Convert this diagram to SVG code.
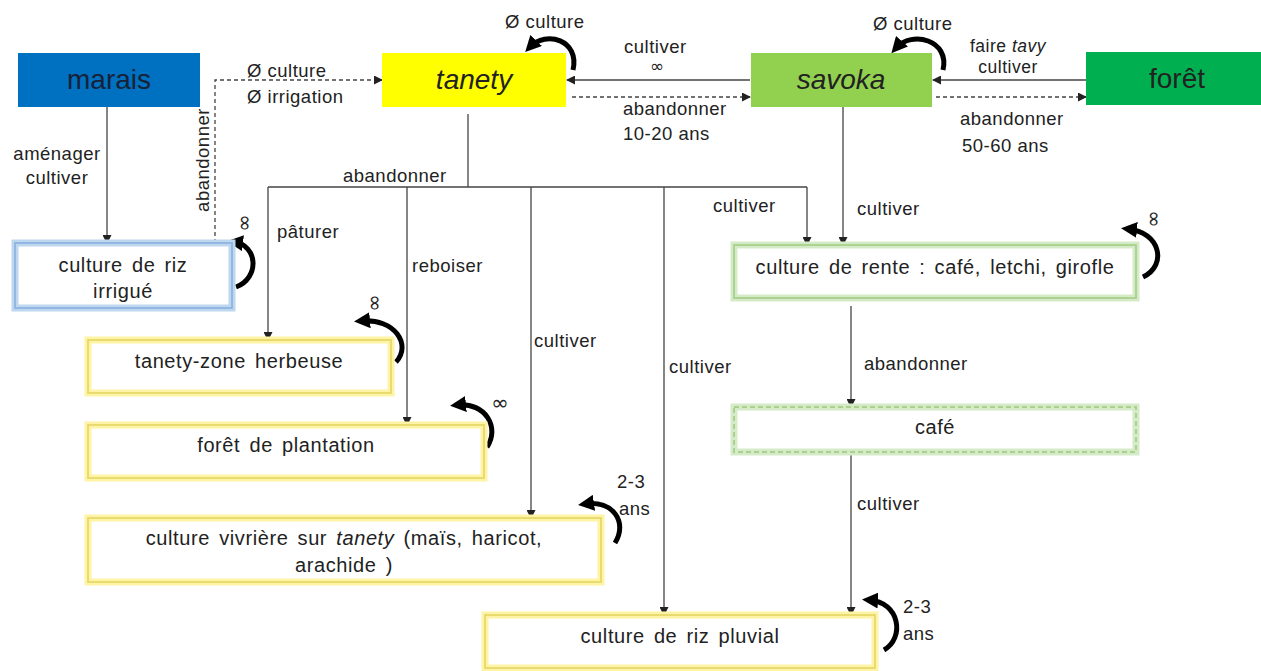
<svg xmlns="http://www.w3.org/2000/svg" width="1261" height="671" viewBox="0 0 1261 671">
<defs>
<marker id="a" markerUnits="userSpaceOnUse" markerWidth="9" markerHeight="9" refX="8" refY="4.5" orient="auto"><path d="M0,0 L9,4.5 L0,9 z" fill="#222"/></marker>
<marker id="b" markerUnits="userSpaceOnUse" markerWidth="16" markerHeight="16" refX="9" refY="8" orient="auto"><path d="M0,0 L16,8 L0,16 z" fill="#000"/></marker>
<style>
.t{font-family:"Liberation Sans",Arial,sans-serif;fill:#222}
.h{font-size:28px}
.bx{font-size:20px;letter-spacing:0.6px;word-spacing:3px}
.l{font-size:18.5px;letter-spacing:0.5px}
.s{font-family:"DejaVu Sans",sans-serif;font-size:21px;fill:#222}
.ln{stroke:#444;stroke-width:1.3;fill:none}
.ds{stroke:#444;stroke-width:1.3;fill:none;stroke-dasharray:4 3}
.lp{stroke:#000;stroke-width:5;fill:none}
.yg{fill:#fff;stroke:#FFF3A6;stroke-width:7}
.yi{fill:none;stroke:#E6D96A;stroke-width:1.8}
.bg{fill:#fff;stroke:#BDD7EE;stroke-width:7}
.bi{fill:none;stroke:#8FB3E0;stroke-width:1.8}
.gg{fill:#fff;stroke:#D5EBC7;stroke-width:7}
.gi{fill:none;stroke:#A9D18E;stroke-width:1.8}
</style>
</defs>
<g id="connectors">
<path class="ln" d="M107,107 V243" marker-end="url(#a)"/>
<path class="ds" d="M215,243 V80 H382" marker-end="url(#a)"/>
<path class="ln" d="M750,80 H567" marker-end="url(#a)"/>
<path class="ds" d="M572,97 H750" marker-end="url(#a)"/>
<path class="ln" d="M1086,80 H933" marker-end="url(#a)"/>
<path class="ds" d="M936,97 H1086" marker-end="url(#a)"/>
<path class="ln" d="M468,114 V187"/>
<path class="ln" d="M268,187 H807"/>
<path class="ln" d="M268,187 V340" marker-end="url(#a)"/>
<path class="ln" d="M407,187 V425" marker-end="url(#a)"/>
<path class="ln" d="M531,187 V518" marker-end="url(#a)"/>
<path class="ln" d="M664,187 V615" marker-end="url(#a)"/>
<path class="ln" d="M807,187 V245" marker-end="url(#a)"/>
<path class="ln" d="M843,107 V245" marker-end="url(#a)"/>
<path class="ln" d="M851,306 V407" marker-end="url(#a)"/>
<path class="ln" d="M851,452 V615" marker-end="url(#a)"/>
<path class="lp" d="M573,70 C580,40 546,30 530,47" marker-end="url(#b)"/>
<path class="lp" d="M943,70 C950,40 912,30 896,48" marker-end="url(#b)"/>
<path class="lp" d="M236,287 C260,278 258,245 234,242" marker-end="url(#b)"/>
<path class="lp" d="M396,362 C412,345 395,318 361,321" marker-end="url(#b)"/>
<path class="lp" d="M487,447 C500,428 486,402 457,405" marker-end="url(#b)"/>
<path class="lp" d="M615,543 C628,522 613,500 585,504" marker-end="url(#b)"/>
<path class="lp" d="M1143,277 C1168,265 1160,232 1128,229" marker-end="url(#b)"/>
<path class="lp" d="M884,650 C905,638 900,602 869,600" marker-end="url(#b)"/>
<text class="t l" x="57" y="160" text-anchor="middle">aménager</text>
<text class="t l" x="57" y="184" text-anchor="middle">cultiver</text>
<text class="t l" transform="translate(209,160) rotate(-90)" text-anchor="middle">abandonner</text>
<text class="t l" x="247" y="77">Ø culture</text>
<text class="t l" x="247" y="103">Ø irrigation</text>
<text class="t l" x="505" y="28">Ø culture</text>
<text class="t l" x="624" y="53">cultiver</text>
<text class="s" x="657" y="72" text-anchor="middle" style="font-size:17px">∞</text>
<text class="t l" x="623" y="115">abandonner</text>
<text class="t l" x="623" y="140">10-20 ans</text>
<text class="t l" x="873" y="30">Ø culture</text>
<text class="t l" x="1008" y="52" text-anchor="middle" style="font-size:17.5px">faire <tspan font-style="italic">tavy</tspan></text>
<text class="t l" x="1008" y="73" text-anchor="middle" style="font-size:17.5px">cultiver</text>
<text class="t l" x="960" y="125">abandonner</text>
<text class="t l" x="962" y="152">50-60 ans</text>
<text class="t l" x="343" y="182">abandonner</text>
<text class="t l" x="277" y="238">pâturer</text>
<text class="t l" x="412" y="272">reboiser</text>
<text class="t l" x="534" y="347">cultiver</text>
<text class="t l" x="669" y="373">cultiver</text>
<text class="t l" x="713" y="212">cultiver</text>
<text class="t l" x="857" y="215">cultiver</text>
<text class="t l" x="864" y="370">abandonner</text>
<text class="t l" x="857" y="510">cultiver</text>
<text class="s" transform="translate(251,223) rotate(-90)" text-anchor="middle">∞</text>
<text class="s" transform="translate(381,303) rotate(-90)" text-anchor="middle">∞</text>
<text class="s" x="500" y="410" text-anchor="middle">∞</text>
<text class="s" transform="translate(1160,219) rotate(-90)" text-anchor="middle">∞</text>
<text class="t l" x="617" y="488">2-3</text>
<text class="t l" x="619" y="515">ans</text>
<text class="t l" x="903" y="613">2-3</text>
<text class="t l" x="903" y="640">ans</text>
</g>
<g id="marais"><rect x="18" y="53" width="182" height="54" fill="#0070C0"/><text class="t h" x="109" y="89" text-anchor="middle" style="fill:#172238">marais</text></g>
<g id="tanety"><rect x="382" y="53" width="184" height="54" fill="#FFFF00"/><text class="t h" x="474" y="89" text-anchor="middle" font-style="italic">tanety</text></g>
<g id="savoka"><rect x="751" y="53" width="181" height="54" fill="#92D050"/><text class="t h" x="841" y="89" text-anchor="middle" font-style="italic">savoka</text></g>
<g id="foret"><rect x="1086" y="52" width="175" height="53" fill="#00B050"/><text class="t h" x="1177" y="88" text-anchor="middle">forêt</text></g>
<g id="riz-irrigue"><rect class="bg" x="15" y="243" width="217" height="65"/><rect class="bi" x="15" y="243" width="217" height="65"/><text class="t bx" x="123" y="272" text-anchor="middle">culture de riz</text><text class="t bx" x="123" y="298" text-anchor="middle">irrigué</text></g>
<g id="tanety-zone"><rect class="yg" x="88" y="340" width="303" height="53"/><rect class="yi" x="88" y="340" width="303" height="53"/><text class="t bx" x="239" y="368" text-anchor="middle">tanety-zone herbeuse</text></g>
<g id="foret-plantation"><rect class="yg" x="88" y="425" width="396" height="53"/><rect class="yi" x="88" y="425" width="396" height="53"/><text class="t bx" x="286" y="452" text-anchor="middle">forêt de plantation</text></g>
<g id="culture-vivriere"><rect class="yg" x="88" y="518" width="513" height="64"/><rect class="yi" x="88" y="518" width="513" height="64"/><text class="t bx" x="344" y="545" text-anchor="middle">culture vivrière sur <tspan font-style="italic">tanety</tspan> (maïs, haricot,</text><text class="t bx" x="344" y="572" text-anchor="middle">arachide )</text></g>
<g id="riz-pluvial"><rect class="yg" x="485" y="615" width="390" height="53"/><rect class="yi" x="485" y="615" width="390" height="53"/><text class="t bx" x="680" y="643" text-anchor="middle">culture de riz pluvial</text></g>
<g id="culture-rente"><rect class="gg" x="734" y="245" width="402" height="53"/><rect class="gi" x="734" y="245" width="402" height="53"/><text class="t bx" x="935" y="274" text-anchor="middle">culture de rente : café, letchi,  girofle</text></g>
<g id="cafe"><rect class="gg" x="734" y="407" width="402" height="45"/><rect class="gi" x="734" y="407" width="402" height="45" stroke-dasharray="5 3"/><text class="t bx" x="935" y="434" text-anchor="middle">café</text></g>
</svg>
